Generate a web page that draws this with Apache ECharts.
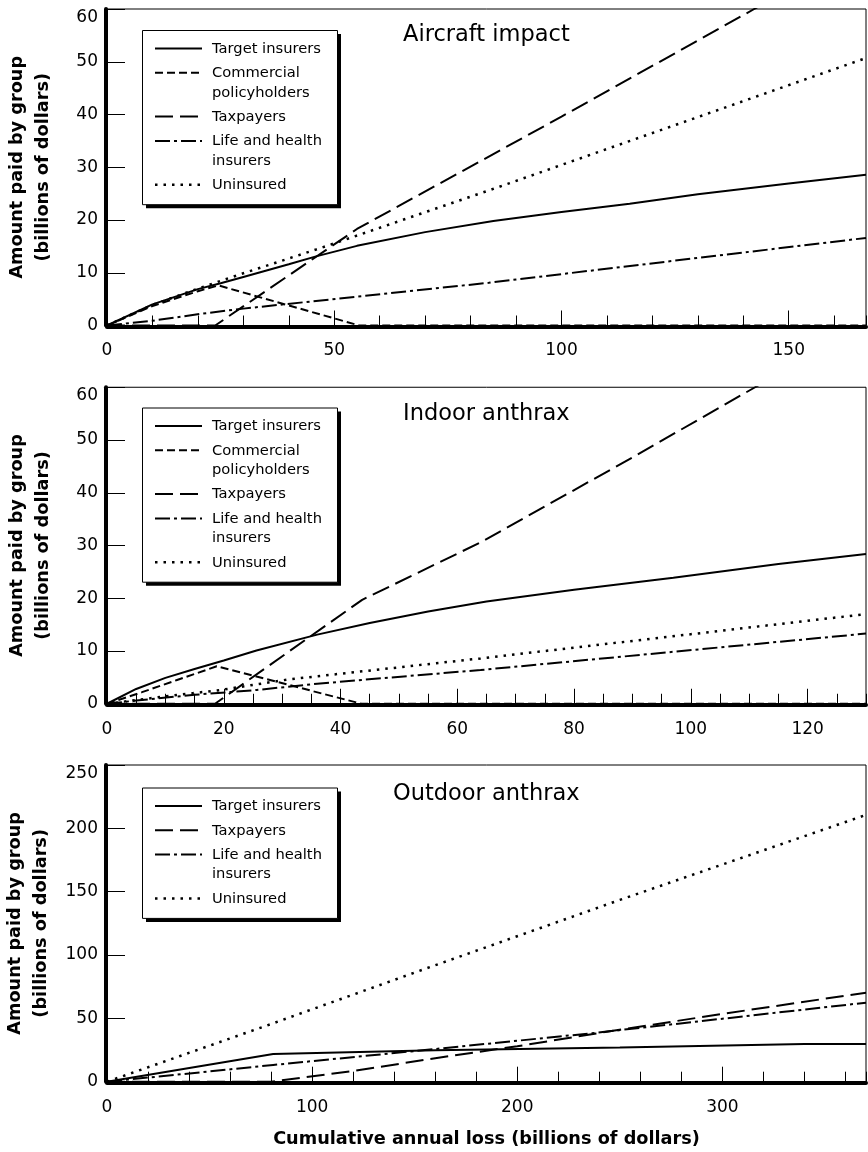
<!DOCTYPE html>
<html>
<head>
<meta charset="utf-8">
<script src="https://cdn.jsdelivr.net/npm/echarts@6/dist/echarts.min.js"></script>
<style>
html,body{margin:0;padding:0;background:#fff;}
#chart{width:868px;height:1152px;}
</style>
</head>
<body>
<div id="chart"></div>
<script>
// ---------- data ----------
const panelTitles = ['Aircraft impact', 'Indoor anthrax', 'Outdoor anthrax'];
const groupNames = ['Target insurers', 'Commercial policyholders', 'Taxpayers', 'Life and health insurers', 'Uninsured'];
const legendLabels = [['Target insurers'], ['Commercial', 'policyholders'], ['Taxpayers'], ['Life and health', 'insurers'], ['Uninsured']];
const yAxisTitle = 'Amount paid by group\n(billions of dollars)';
const xAxisTitle = 'Cumulative annual loss (billions of dollars)';

const xMax = [167, 130, 370];
const xMajorStep = [50, 20, 100];
const xMinorStep = [10, 5, 20];
const yMax = [60, 60, 250];
const yStep = [10, 10, 50];

// Aircraft impact  [loss, amount]
const aircraftTarget = [[0,0],[10,4],[20,6.9],[25,8],[30,9.2],[40,11.6],[46,13.1],[55,15.1],[70,17.7],[85,19.8],[100,21.5],[115,23.1],[130,24.9],[150,26.9],[167,28.6]];
const aircraftCommercial = [[0,0],[10,3.7],[20,6.5],[24.5,7.6],[55.5,0],[167,0]];
const aircraftTaxpayers = [[0,0],[23.8,0],[55,18.3],[100,39.6],[142.4,60],[167,71.8]];
const aircraftLife = [[0,0],[10,0.9],[20.5,2.2],[30,3.2],[84,8.1],[167,16.6]];
const aircraftUninsured = [[0,0],[10,3.9],[20,7.0],[30,9.9],[46,14.4],[84,25.6],[167,50.7]];

// Indoor anthrax
const indoorTarget = [[0,0],[5,2.8],[10,4.9],[15,6.6],[20,8.2],[25.6,10.1],[36,13.1],[45,15.3],[55,17.5],[65,19.4],[80,21.6],[97,23.9],[115,26.5],[130,28.4]];
const indoorCommercial = [[0,0],[6,2.2],[12,4.5],[18.8,7.1],[43.6,0],[130,0]];
const indoorTaxpayers = [[0,0],[18.5,0],[43.7,19.7],[64,30.6],[90,46.7],[111,60],[130,72]];
const indoorLife = [[0,0],[5,0.6],[15,1.7],[25.6,2.6],[36,3.8],[64,6.4],[130,13.3]];
const indoorUninsured = [[0,0],[10,1.4],[19.4,2.6],[31,4.6],[64,8.6],[130,17.0]];

// Outdoor anthrax
const outdoorTarget = [[0,0],[81,21.9],[160,24.9],[250,26.9],[340,29.8],[370,29.8]];
const outdoorTaxpayers = [[0,0],[80,0],[120,8.5],[160,18.5],[200,28],[240,38.5],[300,53.5],[370,70.3]];
const outdoorLife = [[0,0],[81,13.2],[160,25.8],[236,38.2],[300,49.7],[370,62.4]];
const outdoorUninsured = [[0,0],[81,46.1],[158,90.8],[250,143.5],[370,210.6]];

const panelSeries = [
  [aircraftTarget, aircraftCommercial, aircraftTaxpayers, aircraftLife, aircraftUninsured],
  [indoorTarget, indoorCommercial, indoorTaxpayers, indoorLife, indoorUninsured],
  [outdoorTarget, null, outdoorTaxpayers, outdoorLife, outdoorUninsured]
];

// ---------- styles / layout ----------
const FONT = 'DejaVu Sans';
const dashes = ['solid', [8, 4], [18, 7], [15, 4, 3, 4], [2.5, 6]];
const widths = [2, 2, 2, 2, 2.5];
const grids = [
  {left: 107, top: 9, width: 759, height: 316.5},
  {left: 107, top: 387.25, width: 759, height: 316.5},
  {left: 107, top: 765, width: 759, height: 316.7}
];
const titlePos = [[403, 24], [403, 402.5], [393, 783]];
const legendPos = [[142, 30], [142, 407.5], [142, 787.5]];

const option = {
  animation: false,
  backgroundColor: '#fff',
  textStyle: {fontFamily: FONT, color: '#000'},
  title: panelTitles.map((t, i) => ({
    text: t, left: titlePos[i][0], top: titlePos[i][1], padding: 0,
    textStyle: {fontFamily: FONT, fontSize: 22.5, fontWeight: 'normal', color: '#000'}
  })),
  grid: grids.map(g => Object.assign({show: true, borderColor: '#000', borderWidth: 1, backgroundColor: 'transparent', containLabel: false, outerBoundsMode: 'none'}, g)),
  xAxis: [],
  yAxis: [],
  series: [],
  graphic: {elements: []}
};

for (let p = 0; p < 3; p++) {
  // main x axis (labels + long ticks)
  option.xAxis.push({
    type: 'value', gridIndex: p, min: 0, max: xMax[p], interval: xMajorStep[p],
    position: 'bottom', offset: 1,
    axisLine: {show: true, onZero: false, lineStyle: {color: '#000', width: 4}},
    axisTick: {show: true, inside: true, length: 16, lineStyle: {color: '#000', width: 1}},
    axisLabel: {show: true, margin: 16, fontSize: 17, fontFamily: FONT, color: '#000', showMaxLabel: false},
    splitLine: {show: false},
    name: p === 2 ? xAxisTitle : '',
    nameLocation: 'middle', nameGap: 48,
    nameTextStyle: {fontFamily: FONT, fontSize: 17.7, fontWeight: 'bold', color: '#000'}
  });
  // minor tick axis
  option.xAxis.push({
    type: 'value', gridIndex: p, min: 0, max: xMax[p], interval: xMinorStep[p],
    position: 'bottom', offset: 1,
    axisLine: {show: false},
    axisTick: {show: true, inside: true, length: 10, lineStyle: {color: '#000', width: 1}},
    axisLabel: {show: false},
    splitLine: {show: false}
  });
  const topVal = yMax[p];
  option.yAxis.push({
    type: 'value', gridIndex: p, min: 0, max: yMax[p], interval: yStep[p],
    position: 'left', offset: 1,
    axisLine: {show: true, onZero: false, lineStyle: {color: '#000', width: 4}},
    axisTick: {show: true, inside: true, length: 19, lineStyle: {color: '#000', width: 1}},
    axisLabel: {
      show: true, margin: 8, fontSize: 17, fontFamily: FONT, color: '#000',
      formatter: v => (v === topVal ? '{top|' + v + '}' : String(v)),
      rich: {top: {fontSize: 17, fontFamily: FONT, color: '#000', padding: [17, 0, 0, 0]}}
    },
    splitLine: {show: false},
    name: yAxisTitle, nameLocation: 'middle', nameGap: 50, nameRotate: 90,
    nameTextStyle: {fontFamily: FONT, fontSize: 17.7, fontWeight: 'bold', color: '#000', lineHeight: 26}
  });

  panelSeries[p].forEach((d, k) => {
    if (!d) return;
    option.series.push({
      type: 'line', name: groupNames[k], xAxisIndex: 2 * p, yAxisIndex: p,
      data: d, symbol: 'none', showSymbol: false, silent: true, clip: true,
      lineStyle: {color: '#000', width: widths[k], type: dashes[k], cap: 'butt'},
      z: 3
    });
  });

  // legend box drawn as graphics
  const bx = legendPos[p][0], by = legendPos[p][1];
  const entries = [];
  let ry = 19;
  panelSeries[p].forEach((d, k) => {
    if (!d) return;
    entries.push({k: k, y: ry});
    ry += (legendLabels[k].length - 1) * 19.5 + 24.3;
  });
  const h = entries[entries.length - 1].y + 19;
  const els = option.graphic.elements;
  els.push({type: 'rect', shape: {x: bx + 4, y: by + 4, width: 195, height: h}, style: {fill: '#000'}, z: 100});
  els.push({type: 'rect', shape: {x: bx + 0.5, y: by + 0.5, width: 195, height: h}, style: {fill: '#fff', stroke: '#000', lineWidth: 1}, z: 101});
  entries.forEach(e => {
    const ly = by + e.y - 0.5;
    els.push({
      type: 'line', shape: {x1: bx + 13, y1: ly, x2: bx + 60, y2: ly},
      style: {stroke: '#000', lineWidth: widths[e.k], lineDash: dashes[e.k] === 'solid' ? null : dashes[e.k]},
      z: 102
    });
    legendLabels[e.k].forEach((txt, j) => {
      els.push({
        type: 'text', x: bx + 70, y: by + e.y + j * 19.5, z: 102,
        style: {text: txt, fontFamily: FONT, fontSize: 14.7, fill: '#000', textVerticalAlign: 'middle', verticalAlign: 'middle', textAlign: 'left', align: 'left'}
      });
    });
  });
}

const chart = echarts.init(document.getElementById('chart'), null, {renderer: 'canvas', width: 868, height: 1152});
chart.setOption(option);
</script>
</body>
</html>
